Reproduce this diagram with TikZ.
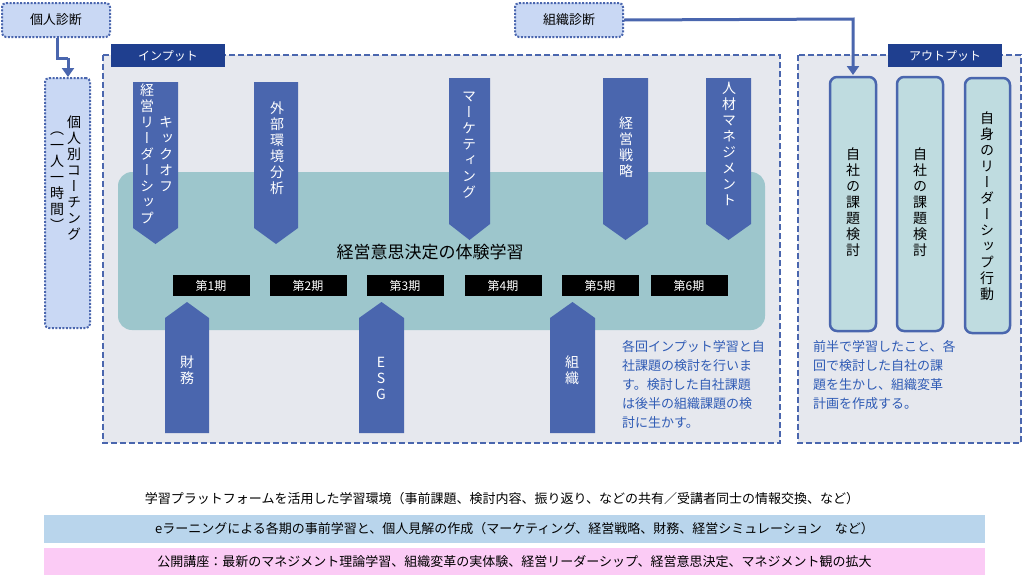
\documentclass[tikz,border=0pt]{standalone}
\usepackage{fontspec}
\setmainfont{Noto Sans CJK JP}
\newfontfamily\vfont[RawFeature=+vert]{Noto Sans CJK JP}
\usetikzlibrary{arrows.meta}
\definecolor{arrB}{HTML}{4A66AE}
\definecolor{darkB}{HTML}{1F3F8F}
\definecolor{panel}{HTML}{E6E8EE}
\definecolor{teal}{HTML}{9DC6CC}
\definecolor{outF}{HTML}{BFDCE0}
\definecolor{diag}{HTML}{C9D8F4}
\definecolor{txtB}{HTML}{2F5BB5}
\definecolor{barB}{HTML}{B9D5EC}
\definecolor{barP}{HTML}{FBCBF5}
\tikzset{
 diagbox/.style={draw=arrB,fill=diag,line width=2pt,dash pattern=on 2pt off 1.5pt,rounded corners=4pt},
 panelbox/.style={draw=arrB,fill=panel,line width=1.6pt,dash pattern=on 6pt off 3pt},
 tagbox/.style={fill=darkB,text=white,font=\fontsize{12}{12}\selectfont,inner sep=0pt},
 period/.style={fill=black,text=white,minimum width=77pt,minimum height=21pt,inner sep=0pt,font=\fontsize{12}{12}\selectfont},
 vtxt/.style={align=center,inner sep=0pt,font=\vfont\fontsize{14}{16}\selectfont},
 outbox/.style={draw=arrB,fill=outF,line width=2.5pt,rounded corners=7pt},
 conn/.style={draw=arrB,line width=3pt,-{Triangle[length=9pt,width=12pt]}},
 note/.style={text=txtB,align=left,anchor=north west,inner sep=0pt,font=\fontsize{13}{19}\selectfont},
}
\newcommand\downarr[4]{\fill[arrB] (#1,#3) -- (#2,#3) -- (#2,#4-16) -- ({(#1+#2)/2},#4) -- (#1,#4-16) -- cycle;}
\newcommand\uparr[4]{\fill[arrB] (#1,#3) -- (#2,#3) -- (#2,#4+16) -- ({(#1+#2)/2},#4) -- (#1,#4+16) -- cycle;}
\begin{document}
\begin{tikzpicture}[x=1pt,y=-1pt]
\useasboundingbox (0,0) rectangle (1023,582);
% panels
\draw[panelbox] (103,55) rectangle (780,443);
\draw[panelbox] (798,55) rectangle (1021,443);
\node[tagbox,minimum width=114pt,minimum height=23pt] (tin) at (168,55.5) {インプット};
\node[tagbox,minimum width=114pt,minimum height=23pt] (tout) at (945,55.5) {アウトプット};
\fill[teal,rounded corners=14pt] (118,172) rectangle (765,330);
\node[font=\fontsize{17}{17}\selectfont] (title) at (430,252) {経営意思決定の体験学習};
% down arrows
\downarr{133}{178}{82}{244}
\downarr{254}{298}{82}{244}
\downarr{449}{490}{78}{240}
\downarr{603}{648}{78}{240}
\downarr{706}{751}{78}{240}
\node[vtxt,text=white,anchor=north] (k1) at (166,116) {キ\\ッ\\ク\\オ\\フ};
\node[vtxt,text=white,anchor=north] (k2) at (147,84) {経\\営\\リ\\ー\\ダ\\ー\\シ\\ッ\\プ};
\node[vtxt,text=white,anchor=north] (a2) at (277,102) {外\\部\\環\\境\\分\\析};
\node[vtxt,text=white,anchor=north] (a3) at (469,92) {マ\\ー\\ケ\\テ\\ィ\\ン\\グ};
\node[vtxt,text=white,anchor=north] (a4) at (626,117) {経\\営\\戦\\略};
\node[vtxt,text=white,anchor=north] (a5) at (729,82) {人\\材\\マ\\ネ\\ジ\\メ\\ン\\ト};
% up arrows
\uparr{165}{209}{433}{302}
\uparr{359}{404}{433}{302}
\uparr{550}{595}{433}{302}
\node[vtxt,text=white] (u1) at (187,370) {財\\務};
\node[vtxt,text=white] (u2) at (381,378) {E\\S\\G};
\node[vtxt,text=white] (u3) at (572,370) {組\\織};
% periods
\node[period] (p1) at (211,285.5) {第1期};
\node[period] (p2) at (308,285.5) {第2期};
\node[period] (p3) at (405,285.5) {第3期};
\node[period] (p4) at (503,285.5) {第4期};
\node[period] (p5) at (600,285.5) {第5期};
\node[period] (p6) at (689,285.5) {第6期};
% output boxes
\draw[outbox] (830,77) rectangle (876,331);
\draw[outbox] (897,77) rectangle (943,331);
\draw[outbox] (965,78) rectangle (1010,333);
\node[vtxt,anchor=north] (o1) at (853,148) {自\\社\\の\\課\\題\\検\\討};
\node[vtxt,anchor=north] (o2) at (920,148) {自\\社\\の\\課\\題\\検\\討};
\node[vtxt,anchor=north] (o3) at (987,112) {自\\身\\の\\リ\\ー\\ダ\\ー\\シ\\ッ\\プ\\行\\動};
% notes
\node[note] (n1) at (622,340) {各回インプット学習と自\\社課題の検討を行いま\\す。検討した自社課題\\は後半の組織課題の検\\討に生かす。};
\node[note] (n2) at (813,340) {前半で学習したこと、各\\回で検討した自社の課\\題を生かし、組織変革\\計画を作成する。};
% diagnosis
\node[diagbox,minimum width=108pt,minimum height=34pt,font=\fontsize{13}{13}\selectfont] (d1) at (56,20) {個人診断};
\node[diagbox,minimum width=108pt,minimum height=34pt,font=\fontsize{13}{13}\selectfont] (d2) at (569,20) {組織診断};
\node[diagbox,minimum width=45pt,minimum height=250pt] (coach) at (67.5,203) {};
\node[vtxt,anchor=north] (c1) at (74,116) {個\\人\\別\\コ\\ー\\チ\\ン\\グ};
\node[vtxt,anchor=north] (c2) at (57,132) {（\\一\\人\\一\\時\\間\\）};
\coordinate (j1) at (57,58);
\coordinate (j2) at (68,58);
\draw[conn,-] (d1.south -| j1) -- (j1) -- (j2);
\draw[conn] (j2) -- (j2 |- coach.north);
\coordinate (j3) at (853,19);
\draw[conn] (d2.east) -- (j3) -- (853,75);
% bottom
\node[font=\fontsize{13}{13}\selectfont] (b0) at (502,499) {学習プラットフォームを活用した学習環境（事前課題、検討内容、振り返り、などの共有／受講者同士の情報交換、など）};
\node[fill=barB,minimum width=941pt,minimum height=28pt,inner sep=0pt,font=\fontsize{13}{13}\selectfont] (b1) at (514.5,529) {eラーニングによる各期の事前学習と、個人見解の作成（マーケティング、経営戦略、財務、経営シミュレーション　など）};
\node[fill=barP,minimum width=941pt,minimum height=27pt,inner sep=0pt,font=\fontsize{13}{13}\selectfont] (b2) at (514.5,561.5) {公開講座：最新のマネジメント理論学習、組織変革の実体験、経営リーダーシップ、経営意思決定、マネジメント観の拡大};
\end{tikzpicture}
\end{document}
